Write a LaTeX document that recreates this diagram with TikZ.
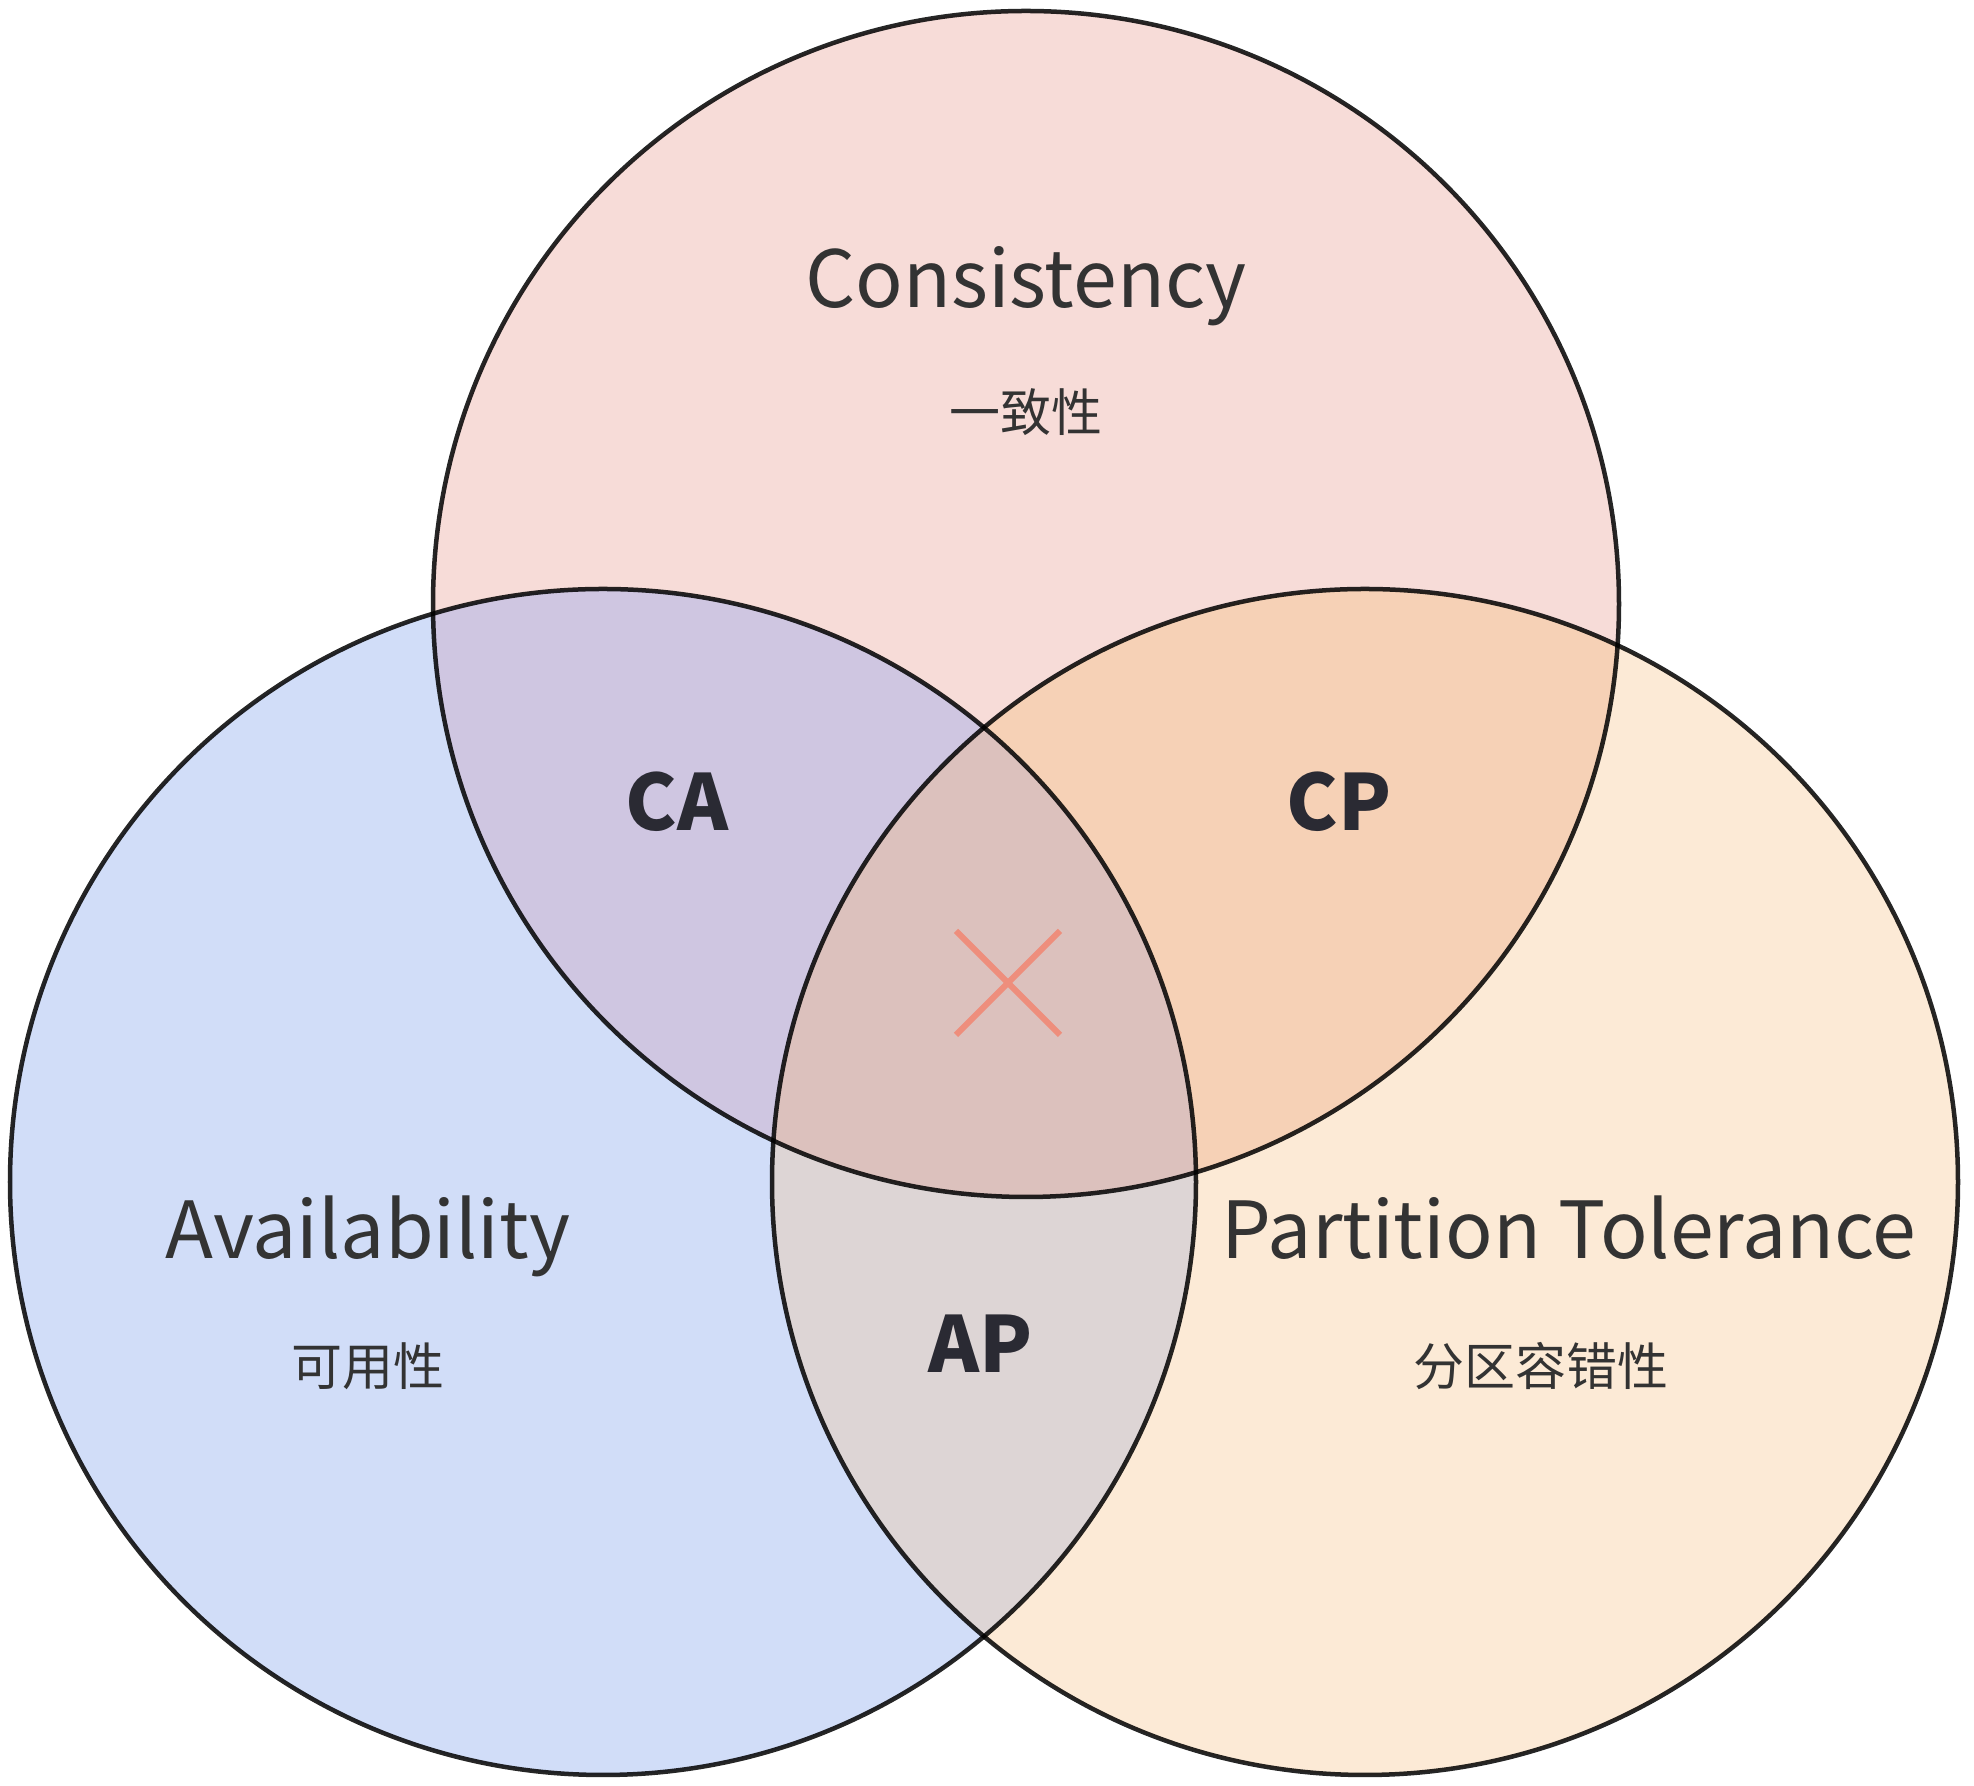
\documentclass[tikz,border=0pt]{standalone}
\usepackage{fontspec}
\setmainfont{Noto Sans CJK SC}
\begin{document}
\begin{tikzpicture}[x=0.01cm,y=-0.01cm]
  % colours of the three sets and their overlaps
  \definecolor{setC}{HTML}{F7DCD8}
  \definecolor{setA}{HTML}{D1DDF8}
  \definecolor{setP}{HTML}{FCEAD6}
  \definecolor{lapCA}{HTML}{CFC6E1}
  \definecolor{lapCP}{HTML}{F6D1B6}
  \definecolor{lapAP}{HTML}{DDD5D5}
  \definecolor{lapAll}{HTML}{DCC1BD}
  \definecolor{ink}{HTML}{333333}
  \definecolor{inkbold}{HTML}{2A2A33}
  \definecolor{cross}{HTML}{EE8E7C}
  \tikzset{
    ring/.style={draw=black, draw opacity=0.85, line width=0.045cm},
    setname/.style={text=ink, inner sep=0pt, anchor=base, font=\fontsize{22.4pt}{27pt}\selectfont},
    setsub/.style={text=ink, inner sep=0pt, font=\fontsize{14.5pt}{17pt}\selectfont},
    pairname/.style={text=inkbold, inner sep=0pt, font=\bfseries\fontsize{22pt}{26pt}\selectfont},
    crossline/.style={draw=cross, line width=0.06cm}
  }
  \fill[white] (0,0) rectangle (1974,1786);
  \useasboundingbox (0,0) rectangle (1974,1786);

  \coordinate (cC) at (1026,604);
  \coordinate (cA) at (603,1182);
  \coordinate (cP) at (1365,1182);
  \def\rr{593}

  % single sets
  \fill[setC] (cC) circle[radius=\rr];
  \fill[setA] (cA) circle[radius=\rr];
  \fill[setP] (cP) circle[radius=\rr];
  % pairwise overlaps
  \begin{scope}
    \clip (cC) circle[radius=\rr];
    \fill[lapCA] (cA) circle[radius=\rr];
  \end{scope}
  \begin{scope}
    \clip (cC) circle[radius=\rr];
    \fill[lapCP] (cP) circle[radius=\rr];
  \end{scope}
  \begin{scope}
    \clip (cA) circle[radius=\rr];
    \fill[lapAP] (cP) circle[radius=\rr];
  \end{scope}
  % triple overlap
  \begin{scope}
    \clip (cC) circle[radius=\rr];
    \clip (cA) circle[radius=\rr];
    \fill[lapAll] (cP) circle[radius=\rr];
  \end{scope}

  % outlines
  \draw[ring] (cC) circle[radius=\rr];
  \draw[ring] (cA) circle[radius=\rr];
  \draw[ring] (cP) circle[radius=\rr];

  % labels
  \node[setname] (nC) at (1026,308) {Consistency};
  \node[setsub] (sC) at (1026,412) {一致性};
  \node[setname] (nA) at (368,1259) {Availability};
  \node[setsub] (sA) at (368,1366) {可用性};
  \node[setname] (nP) at (1569,1259) {Partition Tolerance};
  \node[setsub] (sP) at (1541,1366) {分区容错性};
  \node[pairname] (pCA) at (677,802) {CA};
  \node[pairname] (pCP) at (1339,802) {CP};
  \node[pairname] (pAP) at (981,1344) {AP};

  % the empty centre
  \coordinate (x1) at (956,931);
  \coordinate (x2) at (1060,1035);
  \coordinate (x3) at (1060,931);
  \coordinate (x4) at (956,1035);
  \draw[crossline] (x1) -- (x2);
  \draw[crossline] (x3) -- (x4);
\end{tikzpicture}
\end{document}
